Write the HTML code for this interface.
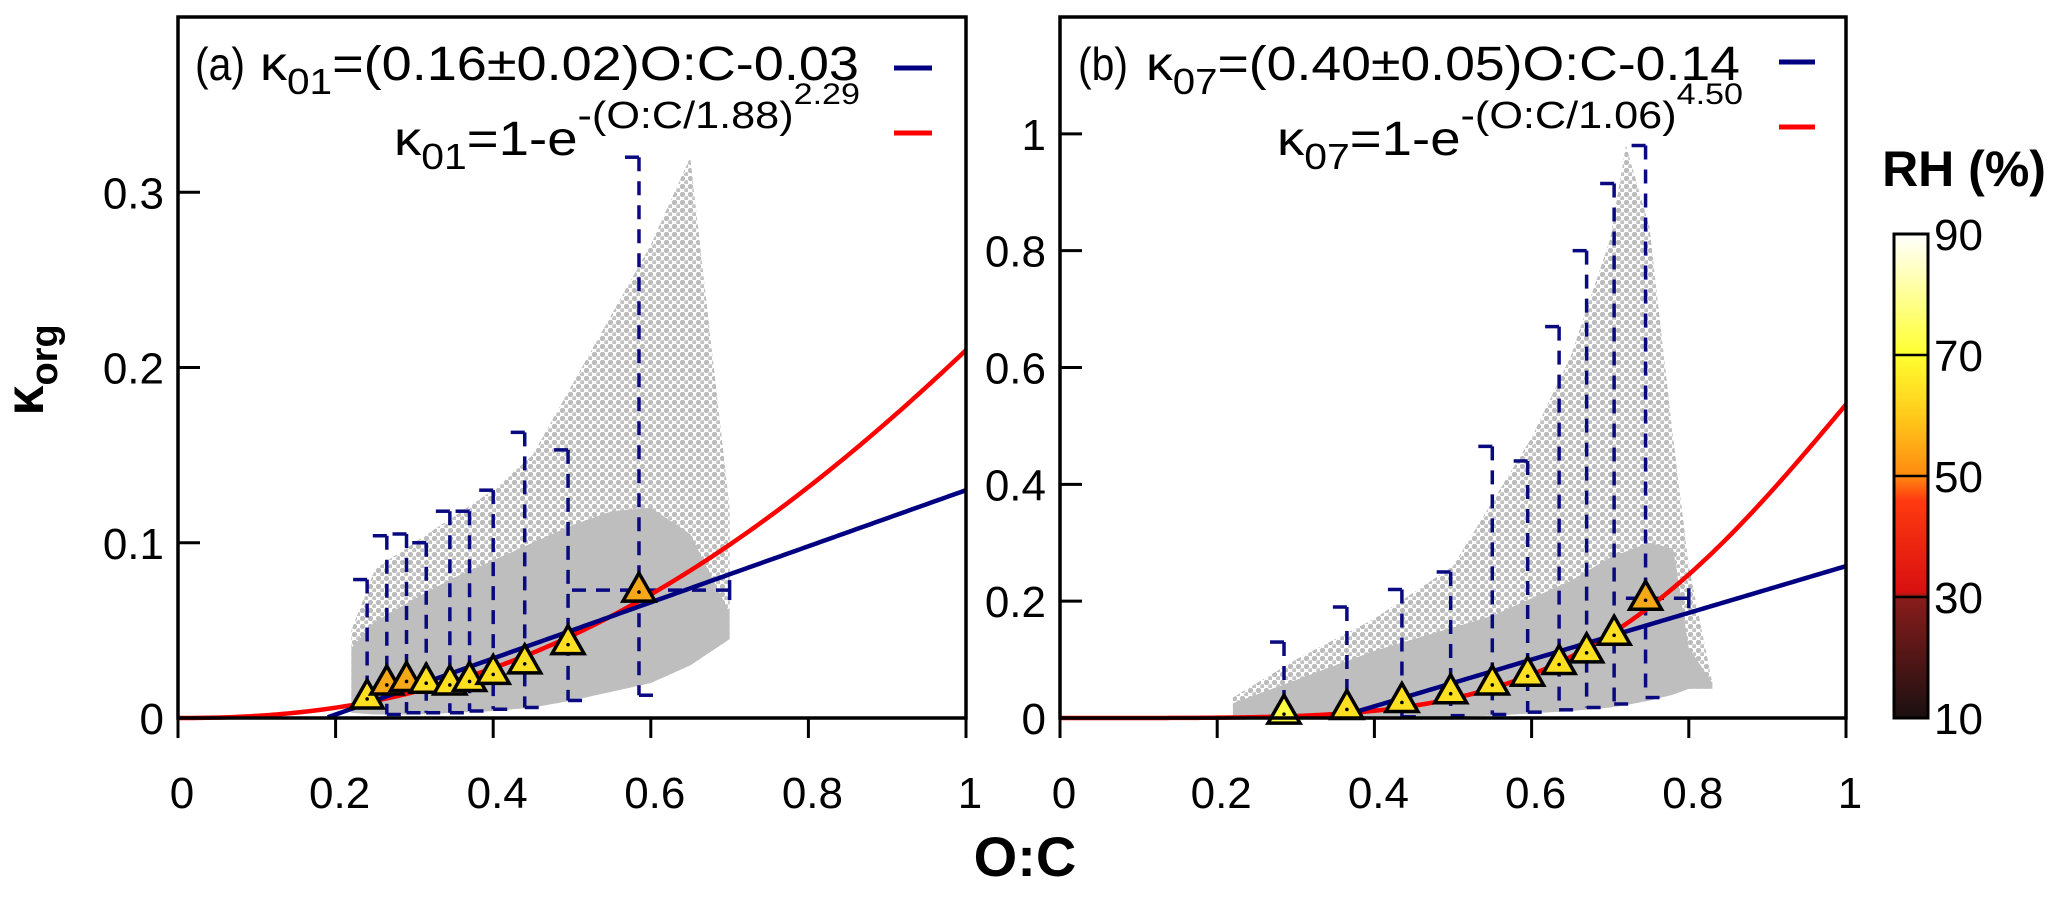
<!DOCTYPE html>
<html><head><meta charset="utf-8"><style>
html,body{margin:0;padding:0;background:#fff;}
svg{display:block;font-family:"Liberation Sans",sans-serif;}
</style></head><body>
<svg id="fig" width="2067" height="907" viewBox="0 0 2067 907" xmlns="http://www.w3.org/2000/svg">
<defs>
<pattern id="dots" width="8" height="8" patternUnits="userSpaceOnUse"><circle cx="2.5" cy="2.5" r="2.6" fill="#bbbbbb"/><circle cx="6.5" cy="6.5" r="2.4" fill="#c2c2c2"/></pattern>
<linearGradient id="rhgrad" x1="0" y1="1" x2="0" y2="0">
<stop offset="0" stop-color="#1a1010"/><stop offset="0.25" stop-color="#8a1c1c"/><stop offset="0.26" stop-color="#d81010"/><stop offset="0.45" stop-color="#ff3a10"/><stop offset="0.5" stop-color="#ff8a10"/><stop offset="0.62" stop-color="#ffc81a"/><stop offset="0.75" stop-color="#ffff30"/><stop offset="1" stop-color="#ffffff"/>
</linearGradient>
</defs>
<g id="root"></g>
<text x="43" y="370" transform="rotate(-90 43 370)" text-anchor="middle" font-size="54" font-weight="bold">κ<tspan font-size="38" dy="14">org</tspan></text>
<text x="1025" y="876" text-anchor="middle" font-size="56" font-weight="bold">O:C</text>
<g>
<text x="1964" y="186" text-anchor="middle" font-size="50" font-weight="bold">RH (%)</text>
<rect x="1894" y="234" width="34" height="484" fill="url(#rhgrad)" stroke="#000" stroke-width="3"/>
<g id="cbticks"></g>
</g>
</svg>
<script>
// ----- panel (a) data -----
const aTriX = [0.24,0.265,0.29,0.315,0.345,0.37,0.40,0.44,0.495,0.585];
const aTriY = [0.012,0.020,0.022,0.021,0.020,0.022,0.026,0.032,0.043,0.073];
const aTriRH = [65,55,55,68,68,68,68,68,68,58];
const aErrHi = [0.079,0.104,0.105,0.100,0.118,0.118,0.130,0.163,0.153,0.320];
const aErrLo = [0.010,0.002,0.003,0.003,0.003,0.004,0.005,0.006,0.010,0.013];
const aCloudX = [0.22,0.25,0.30,0.35,0.40,0.45,0.50,0.55,0.60,0.65,0.70];
const aCloudLo = [0.003,0.002,0.002,0.003,0.004,0.006,0.010,0.015,0.020,0.030,0.045];
const aCloudCore = [0.040,0.055,0.068,0.080,0.090,0.100,0.110,0.118,0.120,0.105,0.060];
const aCloudHi = [0.050,0.085,0.100,0.115,0.130,0.150,0.190,0.230,0.270,0.320,0.120];
const aYTicks = [0,0.1,0.2,0.3];
const xTicks = [0,0.2,0.4,0.6,0.8,1];
// ----- panel (b) data -----
const bTriX = [0.285,0.365,0.435,0.497,0.55,0.595,0.635,0.67,0.705,0.745];
const bTriY = [0.010,0.018,0.030,0.045,0.060,0.075,0.095,0.115,0.145,0.205];
const bTriRH = [78,68,68,68,68,68,68,68,68,55];
const bErrHi = [0.130,0.190,0.220,0.250,0.465,0.440,0.670,0.800,0.915,0.980];
const bErrLo = [0.000,0.000,0.002,0.004,0.006,0.010,0.014,0.018,0.024,0.035];
const bCloudX = [0.22,0.30,0.40,0.50,0.55,0.60,0.65,0.70,0.72,0.75,0.78,0.80,0.83];
const bCloudLo = [0.000,0.000,0.000,0.002,0.004,0.008,0.012,0.018,0.022,0.030,0.040,0.050,0.050];
const bCloudCore = [0.025,0.065,0.115,0.155,0.175,0.205,0.235,0.275,0.285,0.300,0.290,0.120,0.060];
const bCloudHi = [0.035,0.100,0.170,0.260,0.370,0.480,0.620,0.820,0.980,0.840,0.480,0.260,0.060];
const bYTicks = [0,0.2,0.4,0.6,0.8,1];
const cbTicks = [10,30,50,70,90];

const NS="http://www.w3.org/2000/svg";
const root=document.getElementById('root');
function mk(tag,attrs,parent){const e=document.createElementNS(NS,tag);for(const k in attrs)e.setAttribute(k,attrs[k]);(parent||root).appendChild(e);return e;}
function rhColor(v){ if(v>=70) return '#ffff40'; if(v>=60) return '#ffe020'; if(v>=50) return '#f5a818'; if(v>=30) return '#ff3010'; return '#701818';}

function panel(o){
  const L=o.L,R=o.R,T=17,B=718;
  const sx=v=>L+(R-L)*v, sy=v=>B-(B-T)*v/o.ymax;
  const g=mk('g',{});
  
  
  let p1='',p2='';
  o.cx.forEach((x,i)=>{p1+=(i?'L':'M')+sx(x)+','+sy(o.chi[i]);p2+=(i?'L':'M')+sx(x)+','+sy(o.ccore[i]);});
  for(let i=o.cx.length-1;i>=0;i--){p1+='L'+sx(o.cx[i])+','+sy(o.clo[i]);p2+='L'+sx(o.cx[i])+','+sy(o.clo[i]);}
  const c1=mk('path',{d:p1+'Z',fill:'url(#dots)'},g);
  
  
  const c2=mk('path',{d:p2+'Z',fill:'#bebebe'},g);
  
  
  o.tx.forEach((x,i)=>{
    const eg=mk('g',{stroke:'#0a0a80','stroke-width':3.5,fill:'none'},g);
    
    
    mk('line',{x1:sx(x),x2:sx(x),y1:sy(o.hi[i]),y2:sy(o.lo[i]),'stroke-dasharray':'14,10'},eg);
    mk('line',{x1:sx(x)-14,x2:sx(x),y1:sy(o.hi[i]),y2:sy(o.hi[i])},eg);
    mk('line',{x1:sx(x),x2:sx(x)+14,y1:sy(o.lo[i]),y2:sy(o.lo[i])},eg);
  });
  if(o.xerr){const eg=mk('g',{stroke:'#0a0a80','stroke-width':3.5},g);
    
    
    mk('line',{x1:sx(o.xerr[0]),x2:sx(o.xerr[1]),y1:sy(o.xerr[2]),y2:sy(o.xerr[2]),'stroke-dasharray':'14,10'},eg);
    mk('line',{x1:sx(o.xerr[1]),x2:sx(o.xerr[1]),y1:sy(o.xerr[2])-10,y2:sy(o.xerr[2])+10},eg);}
  let pb='',pr='';
  for(let k=0;k<=200;k++){const x=k/200;
    const yb=o.bm*x+o.bc; if(yb>=0) pb+=(pb?'L':'M')+sx(x)+','+sy(yb);
    const yr=1-Math.exp(-Math.pow(x/o.rs,o.rp)); pr+=(k?'L':'M')+sx(x)+','+sy(yr);}
  const lr=mk('path',{d:pr,fill:'none',stroke:'#ff0000','stroke-width':4.5},g);
  
  
  const lb=mk('path',{d:pb,fill:'none',stroke:'#000080','stroke-width':4.5},g);
  
  
  o.tx.forEach((x,i)=>{const cx=sx(x),cy=sy(o.ty[i]);
    const t=mk('path',{d:`M${cx},${cy-17}L${cx+16},${cy+11}L${cx-16},${cy+11}Z`,fill:rhColor(o.rh[i]),stroke:'#000','stroke-width':3.5,'stroke-linejoin':'miter'},g);
    
    
    mk('circle',{cx:cx,cy:cy+2,r:1.8,fill:'#000'},g);});
  const fr=mk('rect',{x:L,y:T,width:R-L,height:B-T,fill:'none',stroke:'#000','stroke-width':3.5},g);
  
  
  o.yt.forEach(v=>{mk('line',{x1:L,x2:L+22,y1:sy(v),y2:sy(v),stroke:'#000','stroke-width':3},g);
    const tl=mk('text',{x:L-14,y:sy(v)+16,'text-anchor':'end','font-size':44},g);tl.textContent=String(v);
    
    });
  xTicks.forEach(v=>{mk('line',{x1:sx(v),x2:sx(v),y1:B,y2:B+20,stroke:'#000','stroke-width':3},g);
    const tl=mk('text',{x:sx(v)+4,y:B+90,'text-anchor':'middle','font-size':44},g);tl.textContent=String(v);
    
    });
  const lg=mk('g',{},g);
  
  
  lg.innerHTML=o.leg;
  mk('line',{x1:o.ll[0],x2:o.ll[1],y1:o.ll[2],y2:o.ll[2],stroke:'#000080','stroke-width':5},lg);
  mk('line',{x1:o.ll[0],x2:o.ll[1],y1:o.ll[3],y2:o.ll[3],stroke:'#ff0000','stroke-width':5},lg);
}
function legendMarkup(lbl,sub,eq,base,pw,x0,x1a,x1b,x2a,x2b){
  return `<text x="${x0}" y="80" font-size="46" textLength="50" lengthAdjust="spacingAndGlyphs">(${lbl})</text>`+
  `<text x="${x1a}" y="80" font-size="48" textLength="${x1b-x1a}" lengthAdjust="spacingAndGlyphs">κ<tspan font-size="36" dy="14">${sub}</tspan><tspan dy="-14">${eq}</tspan></text>`+
  `<text x="${x2a}" y="155" font-size="48" textLength="${x2b-x2a}" lengthAdjust="spacingAndGlyphs">κ<tspan font-size="36" dy="14">${sub}</tspan><tspan dy="-14">=1-e</tspan><tspan font-size="38" dy="-27">-(O:C/${base})</tspan><tspan font-size="30" dy="-24">${pw}</tspan></text>`;
}
panel({name:'panel-a',L:178,R:966,ymax:0.4,tx:aTriX,ty:aTriY,rh:aTriRH,hi:aErrHi,lo:aErrLo,cx:aCloudX,clo:aCloudLo,ccore:aCloudCore,chi:aCloudHi,yt:aYTicks,bm:0.16,bc:-0.03,rs:1.88,rp:2.29,xerr:[0.50,0.70,0.073],
  ll:[894,932,68,133],
  leg:legendMarkup('a','01','=(0.16±0.02)O:C-0.03','1.88','2.29',195,260,859,394,860)});
panel({name:'panel-b',L:1060,R:1846,ymax:1.2,tx:bTriX,ty:bTriY,rh:bTriRH,hi:bErrHi,lo:bErrLo,cx:bCloudX,clo:bCloudLo,ccore:bCloudCore,chi:bCloudHi,yt:bYTicks,bm:0.40,bc:-0.14,rs:1.06,rp:4.50,xerr:[0.72,0.80,0.205],
  ll:[1779,1815,62,127],
  leg:legendMarkup('b','07','=(0.40±0.05)O:C-0.14','1.06','4.50',1078,1146,1740,1277,1743)});
const cbg=document.getElementById('cbticks');
cbTicks.forEach(v=>{const y=718-(v-10)/80*484;
  if(v>10&&v<90) mk('line',{x1:1894,x2:1928,y1:y,y2:y,stroke:'#000','stroke-width':2.5},cbg);
  const t=mk('text',{x:1934,y:y+16,'font-size':44},cbg);t.textContent=String(v);
  
  });
</script>
</body></html>
